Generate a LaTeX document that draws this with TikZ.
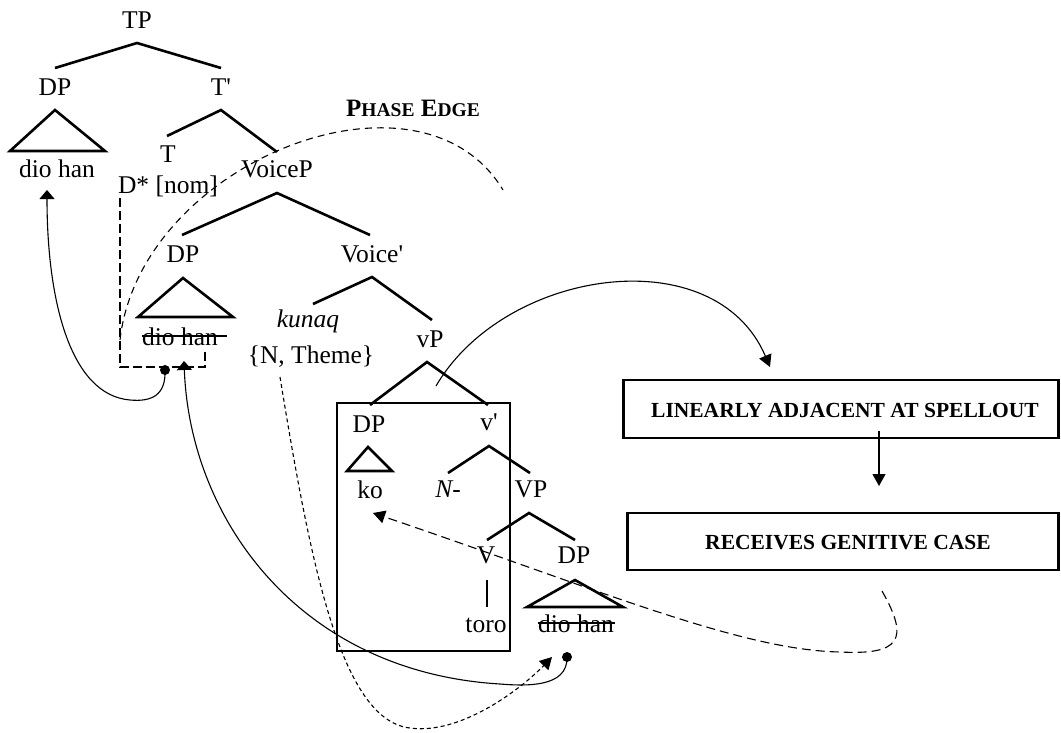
\documentclass[tikz,border=0pt]{standalone}
\usepackage{fontspec}
\setmainfont{Liberation Serif}
\usetikzlibrary{arrows.meta,calc}
\begin{document}
\begin{tikzpicture}[x=1pt,y=-1pt,
  lab/.style={inner sep=0pt,anchor=base,font=\fontsize{25.5}{30}\selectfont},
  branch/.style={line width=2.6pt,line cap=butt,line join=miter},
  boxline/.style={line width=2.6pt},
  boxtext/.style={inner sep=0pt,anchor=base,font=\fontsize{21.5}{26}\selectfont\bfseries},
  thin/.style={line width=1.1pt},
  tip/.style={-{Triangle[width=13pt,length=12pt]}},
  fliptip/.style={-{Triangle[width=15pt,length=9pt]}},
  phasedash/.style={line width=1.1pt,dash pattern=on 7pt off 5pt},
  brdash/.style={line width=1.1pt,dash pattern=on 9pt off 4pt},
  sdash/.style={line width=1.1pt,dash pattern=on 4pt off 3pt},
  ldash/.style={line width=1.1pt,dash pattern=on 9pt off 5pt},
  strike/.style={line width=1.1pt}]
\useasboundingbox (0,0) rectangle (1061,732);

% labels
\node[lab] (TP) at (137,28) {TP};
\node[lab] (DPa) at (55,95) {DP};
\node[lab] (dioA) at (57,177) {dio han};
\node[lab] (Tbar) at (221,95) {T\textquotesingle};
\node[lab] (T) at (168,162) {T};
\node[lab] (Dnom) at (168,193) {D* [nom]};
\node[lab] (VoiceP) at (277,177) {VoiceP};
\node[lab] (DPb) at (183,262) {DP};
\node[lab] (dioB) at (180,345) {dio han};
\node[lab] (Voicebar) at (372,262) {Voice\textquotesingle};
\node[lab] (kunaq) at (308,327) {\itshape kunaq};
\node[lab] (NTheme) at (311,363) {\{N, Theme\}};
\node[lab] (vP) at (430,347) {vP};
\node[lab] (DPc) at (369,432) {DP};
\node[lab] (ko) at (370,498) {ko};
\node[lab] (vbar) at (489,430) {v\textquotesingle};
\node[lab] (Nm) at (448,497) {\itshape N\upshape -};
\node[lab] (VP) at (531,497) {VP};
\node[lab] (V) at (486,563) {V};
\node[lab] (DPd) at (574,563) {DP};
\node[lab] (toro) at (486,632) {toro};
\node[lab] (dioC) at (576,632) {dio han};

\node[inner sep=0pt,anchor=base,font=\fontsize{25}{30}\selectfont\bfseries] (phase) at (413,116)
  {P{\fontsize{19.5}{22}\selectfont HASE} E{\fontsize{19.5}{22}\selectfont DGE}};

% strike-throughs
\draw[strike] ($(dioB.base west)+(0,-9)$) -- ($(dioB.base east)+(9,-9)$);
\draw[strike] ($(dioC.base west)+(0,-9)$) -- ($(dioC.base east)+(1,-9)$);

% tree branches
\draw[branch] (55,68) -- (137,43) -- (221,68);
\draw[branch] (167,136) -- (221,110) -- (277,152);
\draw[branch] (182,235) -- (277,193) -- (370,235);
\draw[branch] (313,304) -- (372,277) -- (432,320);
\draw[branch] (370,405) -- (427,362) -- (488,405);
\draw[branch] (448,473) -- (489,446) -- (530,473);
\draw[branch] (487,540) -- (529,513) -- (575,540);
\draw[branch] (487,580) -- (487,607);

% triangles
\draw[branch] (55,110) -- (10,151) -- (105,151) -- cycle;
\draw[branch] (183,278) -- (138,317) -- (233,317) -- cycle;
\draw[branch] (368,447) -- (347,471) -- (392,471) -- cycle;
\draw[branch] (575,580) -- (527,607) -- (623,607) -- cycle;

% vP box
\draw[boxline] (337,403) rectangle (510,651);

% right boxes
\node[boxline,draw,minimum width=435pt,minimum height=58pt,inner sep=0pt] (lin) at (841,409) {};
\node[boxtext] at (845,417) {LINEARLY ADJACENT AT SPELLOUT};
\node[boxline,draw,minimum width=431pt,minimum height=57pt,inner sep=0pt] (gen) at (843,541.5) {};
\node[boxtext] at (848,549) {RECEIVES GENITIVE CASE};
\coordinate (linout) at (879,431);
\coordinate (genin) at (879,486);
\draw[thin,tip] (linout) -- (genin);

% curve from vP to box
\coordinate (c1s) at (436,386);
\coordinate (c1e) at (770,367);
\draw[thin,tip] (c1s) .. controls (505,268) and (715,238) .. (c1e);

% phase edge arc
\coordinate (pe1) at (120,340);
\coordinate (pe2) at (503,190);
\draw[phasedash] (pe1) .. controls (140,162) and (420,52) .. (pe2);

% dashed bracket under D* [nom]
\coordinate (br1) at (120,198);
\coordinate (br2) at (205,350);
\draw[brdash] (br1) -- (120,367) -- (205,367) -- (br2);

% movement: dio han (mid) -> dio han (top)
\coordinate (dot1) at (165,370);
\coordinate (arrA) at (47,190);
\fill (dot1) circle (5);
\draw[thin,fliptip] (dot1) .. controls (166,395) and (152,402) .. (130,400)
  .. controls (70,395) and (47,300) .. (arrA);

% movement: dio han (low) -> dio han (mid)
\coordinate (dot2) at (567,657);
\coordinate (arrB) at (184,361);
\fill (dot2) circle (5);
\draw[thin,fliptip] (dot2) .. controls (568,688) and (525,686) .. (500,684)
  .. controls (300,672) and (190,520) .. (arrB);

% short dashed: {N, Theme} -> dio han (low)
\coordinate (nt) at (280,377);
\coordinate (arrC) at (552,657);
\draw[sdash,tip] (nt) .. controls (310,560) and (340,720) .. (410,728)
  .. controls (460,735) and (520,690) .. (arrC);

% long dashed: genitive -> ko
\coordinate (gs) at (882,591);
\coordinate (arrD) at (373,513);
\draw[ldash,tip] (gs) .. controls (910,640) and (900,655) .. (840,652)
  .. controls (740,650) and (600,590) .. (arrD);
\end{tikzpicture}
\end{document}
